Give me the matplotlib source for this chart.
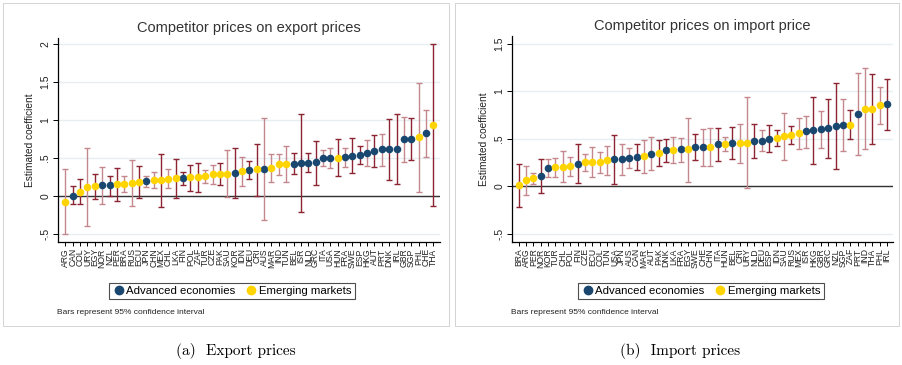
import matplotlib
matplotlib.use("Agg")
import matplotlib.pyplot as plt
from matplotlib.lines import Line2D
from matplotlib.patches import Rectangle
import numpy as np

# export-price panel, sorted by point estimate
exp_codes = ["ARG", "CAN", "COL", "URY", "EGY", "NOR", "NZL", "PER", "BRA", "RUS", "ECU", "JPN", "CHN",
             "MEX", "CHL", "LKA", "FIN", "POL", "ZAF", "TUR", "CZE", "PAK", "SAU", "KOR", "IDN", "DEU",
             "CRI", "AUS", "MAR", "IND", "TUN", "BEL", "ISR", "NLD", "GRC", "ITA", "USA", "HUN", "FRA",
             "SWE", "ESP", "HKG", "AUT", "PRT", "DNK", "IRL", "GBR", "SGP", "PHL", "CHE", "THA"]
exp_coef = [-0.075, 0.00, 0.057, 0.114, 0.127, 0.14, 0.145, 0.154, 0.162, 0.175, 0.19, 0.197, 0.206,
            0.21, 0.228, 0.232, 0.237, 0.246, 0.25, 0.26, 0.29, 0.294, 0.294, 0.298, 0.325, 0.34,
            0.35, 0.36, 0.373, 0.42, 0.42, 0.425, 0.43, 0.44, 0.443, 0.496, 0.50, 0.504, 0.51,
            0.53, 0.544, 0.566, 0.59, 0.614, 0.618, 0.623, 0.75, 0.75, 0.772, 0.825, 0.934]
exp_hi = [0.36, 0.13, 0.23, 0.63, 0.285, 0.377, 0.27, 0.368, 0.26, 0.48, 0.39, 0.27, 0.32,
          0.557, 0.35, 0.49, 0.31, 0.41, 0.44, 0.34, 0.41, 0.44, 0.60, 0.63, 0.51, 0.456,
          0.69, 1.03, 0.557, 0.557, 0.66, 0.566, 1.075, 0.56, 0.73, 0.60, 0.627, 0.746, 0.636,
          0.76, 0.66, 0.74, 0.80, 0.82, 1.02, 1.08, 1.044, 1.03, 1.49, 1.13, 2.00]
exp_lo = [-0.50, -0.11, -0.11, -0.39, -0.044, -0.10, 0.00, -0.07, 0.05, -0.13, -0.02, 0.12, 0.10,
          -0.14, 0.105, -0.03, 0.15, 0.066, 0.05, 0.17, 0.16, 0.15, -0.01, -0.03, 0.13, 0.23,
          0.00, -0.32, 0.184, 0.28, 0.19, 0.29, -0.215, 0.31, 0.15, 0.39, 0.37, 0.26, 0.38,
          0.30, 0.417, 0.39, 0.38, 0.40, 0.21, 0.158, 0.45, 0.478, 0.053, 0.52, -0.13]
exp_faded = [1, 0, 0, 1, 0, 1, 0, 0, 1, 1, 0, 1, 1,
             0, 1, 0, 0, 0, 0, 1, 1, 0, 1, 0, 1, 0,
             0, 1, 1, 1, 1, 0, 0, 0, 0, 1, 1, 0, 1,
             0, 0, 1, 0, 1, 0, 0, 1, 0, 1, 1, 0]

# import-price panel
imp_codes = ["BRA", "ARG", "PER", "NOR", "KOR", "TUR", "CHL", "POL", "FIN", "CZE", "ECU", "COL", "TUN",
             "USA", "JPN", "AUS", "CAN", "MAR", "AUT", "PAK", "DNK", "LKA", "FRA", "EGY", "SWE", "CHE",
             "CHN", "ITA", "HUN", "BEL", "CRI", "URY", "NLD", "DEU", "ESP", "IDN", "SAU", "RUS", "MEX",
             "ISR", "HKG", "GBR", "GRC", "NZL", "SGP", "ZAF", "PRT", "IND", "THA", "PHL", "IRL"]
imp_coef = [0.01, 0.063, 0.09, 0.11, 0.19, 0.20, 0.206, 0.21, 0.24, 0.255, 0.255, 0.255, 0.276,
            0.287, 0.287, 0.30, 0.31, 0.318, 0.343, 0.35, 0.38, 0.385, 0.39, 0.39, 0.41, 0.41,
            0.416, 0.444, 0.448, 0.455, 0.458, 0.46, 0.48, 0.48, 0.50, 0.51, 0.528, 0.542, 0.556,
            0.577, 0.59, 0.598, 0.612, 0.636, 0.647, 0.647, 0.762, 0.818, 0.818, 0.853, 0.867]
imp_hi = [0.24, 0.21, 0.143, 0.283, 0.29, 0.30, 0.37, 0.31, 0.45, 0.34, 0.41, 0.364, 0.427,
          0.54, 0.45, 0.40, 0.45, 0.49, 0.52, 0.49, 0.50, 0.52, 0.51, 0.72, 0.545, 0.60,
          0.61, 0.615, 0.52, 0.626, 0.66, 0.944, 0.657, 0.587, 0.64, 0.587, 0.776, 0.636, 0.72,
          0.74, 0.944, 0.79, 0.92, 1.087, 0.92, 0.80, 1.19, 1.245, 1.185, 1.045, 1.133]
imp_lo = [-0.22, -0.087, 0.024, -0.066, 0.094, 0.094, 0.045, 0.108, 0.035, 0.157, 0.10, 0.143, 0.12,
          0.02, 0.12, 0.19, 0.17, 0.143, 0.168, 0.21, 0.26, 0.25, 0.26, 0.05, 0.276, 0.21,
          0.21, 0.27, 0.37, 0.287, 0.25, -0.02, 0.297, 0.374, 0.357, 0.427, 0.276, 0.444, 0.395,
          0.406, 0.23, 0.406, 0.297, 0.185, 0.367, 0.493, 0.33, 0.39, 0.45, 0.657, 0.594]
imp_faded = [0, 1, 1, 0, 1, 1, 1, 1, 0, 1, 1, 1, 1,
             0, 1, 1, 0, 1, 1, 0, 0, 1, 1, 1, 0, 1,
             1, 0, 1, 0, 1, 1, 0, 1, 0, 0, 1, 0, 1,
             1, 0, 1, 0, 0, 1, 0, 1, 1, 0, 1, 0]

advanced = {"AUS", "AUT", "BEL", "CAN", "CHE", "DEU", "DNK", "ESP", "FIN", "FRA", "GBR", "GRC",
            "HKG", "IRL", "ISR", "ITA", "JPN", "KOR", "NLD", "NOR", "NZL", "PRT", "SGP", "SWE", "USA"}

NAVY = "#1a476f"
GOLD = "#ffd400"
CRAN = "#8c2432"
CRAN_LT = "#c4878d"
GRID = "#e6eef0"
SANS = "Liberation Sans"

W, H = 902, 365
fig = plt.figure(figsize=(W / 100, H / 100), dpi=100)


def px_axes(x0, y0, x1, y1):
    # axes placed by pixel box (top-left origin)
    return fig.add_axes([x0 / W, 1 - y1 / H, (x1 - x0) / W, (y1 - y0) / H])


def panel(ax, codes, coef, lo, hi, faded, title, yticks, yticklabels, ylim, xlim):
    x = np.arange(1, len(codes) + 1)
    coef = np.asarray(coef)
    lo = np.asarray(lo)
    hi = np.asarray(hi)
    faded = np.asarray(faded, dtype=bool)

    ax.set_ylim(*ylim)
    ax.set_xlim(*xlim)
    for yt in yticks:
        ax.axhline(yt, color=GRID, lw=1.0, zorder=0)
    ax.axhline(0, color="#333333", lw=1.0, zorder=1)

    for mask, col in ((~faded, CRAN), (faded, CRAN_LT)):
        ax.errorbar(x[mask], coef[mask], yerr=[coef[mask] - lo[mask], hi[mask] - coef[mask]],
                    fmt="none", ecolor=col, elinewidth=1.0, capsize=1.9, capthick=1.0, zorder=2)

    adv = np.array([c in advanced for c in codes])
    ax.scatter(x[adv], coef[adv], s=30, color=NAVY, zorder=3, linewidths=0)
    ax.scatter(x[~adv], coef[~adv], s=30, color=GOLD, zorder=3, linewidths=0)

    ax.set_xticks(x)
    ax.set_xticklabels(codes, rotation=90, fontsize=6.2, family=SANS, color="#222222")
    ax.set_yticks(yticks)
    ax.set_yticklabels(yticklabels, rotation=90, va="center", fontsize=7.5, family=SANS, color="#222222")
    ax.tick_params(axis="x", length=3, width=0.7, pad=1.5)
    ax.tick_params(axis="y", length=3.5, width=0.7, pad=2)
    for s in ("top", "right"):
        ax.spines[s].set_visible(False)
    for s in ("left", "bottom"):
        ax.spines[s].set_linewidth(0.9)
    ax.set_ylabel("Estimated coefficient", fontsize=7.3, family=SANS, color="#222222", labelpad=4)
    ax.set_title(title, fontsize=10.5, family=SANS, color="#333333", pad=4)


ax1 = px_axes(58, 38, 440, 242)
panel(ax1, exp_codes, exp_coef, exp_lo, exp_hi, exp_faded, "Competitor prices on export prices",
      [2, 1.5, 1, 0.5, 0, -0.5], ["2", "1.5", "1", ".5", "0", "-.5"], (-0.605, 2.08), (0.0, 51.9))

ax2 = px_axes(512, 36, 893, 242)
panel(ax2, imp_codes, imp_coef, imp_lo, imp_hi, imp_faded, "Competitor prices on import price",
      [1.5, 1, 0.5, 0, -0.5], ["1.5", "1", ".5", "0", "-.5"], (-0.585, 1.58), (0.1, 51.8))

handles = [Line2D([], [], ls="none", marker="o", ms=6, mfc=NAVY, mec=NAVY, label="Advanced economies"),
           Line2D([], [], ls="none", marker="o", ms=6, mfc=GOLD, mec=GOLD, label="Emerging markets")]
for cx, nx in ((232, 57), (701, 511)):
    leg = fig.legend(handles=handles, loc="center", bbox_to_anchor=(cx / W, 1 - 291 / H), ncol=2,
                     frameon=True, fancybox=False, edgecolor="#222222",
                     prop={"family": SANS, "size": 8.2}, handletextpad=0.15, columnspacing=0.9,
                     borderpad=0.3, handlelength=1.0, borderaxespad=0)
    leg.get_frame().set_linewidth(0.8)
    fig.text(nx / W, 1 - 313 / H, "Bars represent 95% confidence interval", fontsize=6,
             family=SANS, color="#222222", va="center")

# graph region frames
for x0, x1 in ((3, 449), (455, 899)):
    fig.add_artist(Rectangle((x0 / W, 1 - 326 / H), (x1 - x0) / W, 323 / H, transform=fig.transFigure,
                             fill=False, edgecolor="#cccccc", lw=0.6))

fig.text(236 / W, 1 - 351 / H, "(a)  Export prices", fontsize=11, family="cmr10", ha="center", va="center")
fig.text(680 / W, 1 - 351 / H, "(b)  Import prices", fontsize=11, family="cmr10", ha="center", va="center")

fig.savefig("out.png", dpi=100)
